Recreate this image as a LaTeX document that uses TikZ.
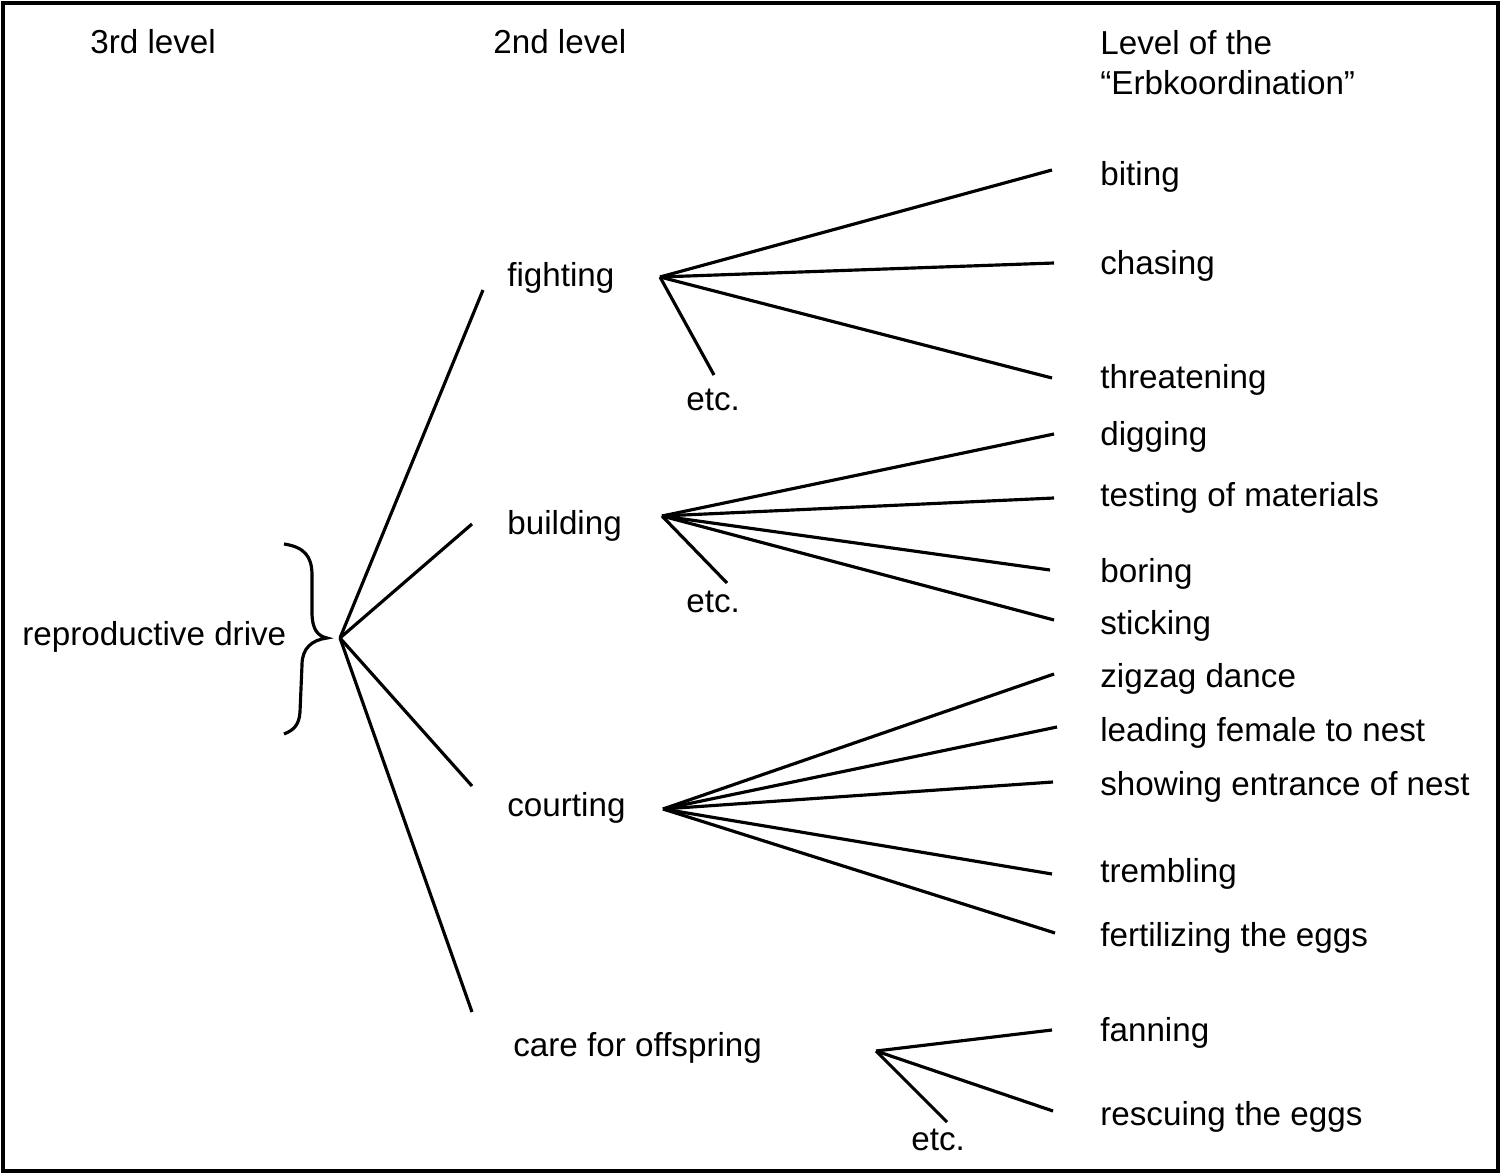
\documentclass[tikz,border=0pt]{standalone}
\usepackage{fontspec}
\setmainfont{Liberation Sans}
\usetikzlibrary{positioning}

\tikzset{
	lbl/.style={anchor=base west, inner sep=0pt, font=\fontsize{18.9}{22.8}\selectfont},
	branch/.style={line width=1.8pt}
}

\begin{document}
\begin{tikzpicture}[x=0.02cm, y=-0.02cm]
				\useasboundingbox (0,0) rectangle (1504,1175);
				\draw[line width=2pt] (3,3) rectangle (1498,1171);
		
				\node[lbl] (lvlthree) at (90,54) {3rd level};
				\node[lbl] (lvltwo) at (493,54) {2nd level};
				\node[lbl] (lvlone) at (1100,55) {Level of the};
				\node[lbl] (erbk) at (1100,95) {“Erbkoordination”};
		
				\node[lbl] (drive) at (22,645) {reproductive drive};
				\draw[branch] (284,544) .. controls (304,547) and (312,556) .. (312,575) -- (312,612) .. controls (312,630) and (318,636) .. (327,638) .. controls (312,640) and (302,648) .. (302,665) -- (300,712) .. controls (299,725) and (294,730) .. (284,734);
				\coordinate (root) at (340,638);
		
				\node[lbl] (fight) at (507,287) {fighting};
				\node[lbl] (build) at (507,535) {building};
				\node[lbl] (court) at (507,816) {courting};
				\node[lbl] (care) at (513,1056) {care for offspring};
				\coordinate (fight-in) at (483,290);
				\coordinate (build-in) at (472,524);
				\coordinate (court-in) at (472,786);
				\coordinate (care-in) at (472,1012);
				\foreach \nm in {fight,build,court,care}
					\draw[branch] (root) -- (\nm-in);
		
				\coordinate (fighthub) at (660,277);
				\coordinate (buildhub) at (662,516);
				\coordinate (courthub) at (663,809);
				\coordinate (carehub) at (876,1051);
		
				\node[lbl] (etcA) at (686,411) {etc.};
				\node[lbl] (etcB) at (686,612) {etc.};
				\node[lbl] (etcC) at (911,1150) {etc.};
				\coordinate (etcA-end) at (714,375);
				\coordinate (etcB-end) at (727,583);
				\coordinate (etcC-end) at (947,1122);
		
				\foreach \nm/\yb/\txt/\ex/\ey in {
						bite/186/biting/1052/170,
						chase/275/chasing/1054/263,
						threat/389/threatening/1052/378,
						dig/446/digging/1054/434,
						test/506/testing of materials/1054/498,
						bore/582/boring/1050/570,
						stick/634/sticking/1054/620,
						zigzag/687/zigzag dance/1054/674,
						lead/741/leading female to nest/1057/727,
						show/795/showing entrance of nest/1053/782,
						tremble/882/trembling/1052/874,
						fert/946/fertilizing the eggs/1055/933,
						fan/1041/fanning/1052/1030,
						rescue/1125/rescuing the eggs/1053/1111} {
					\node[lbl] (\nm) at (1100,\yb) {\txt};
					\coordinate (\nm-end) at (\ex,\ey);
				}
		
				\foreach \hub/\leaves in {
						fighthub/{bite,chase,threat,etcA},
						buildhub/{dig,test,bore,stick,etcB},
						courthub/{zigzag,lead,show,tremble,fert},
						carehub/{fan,rescue,etcC}}
					\foreach \l in \leaves
						\draw[branch] (\hub) -- (\l-end);
			\end{tikzpicture}
\end{document}
